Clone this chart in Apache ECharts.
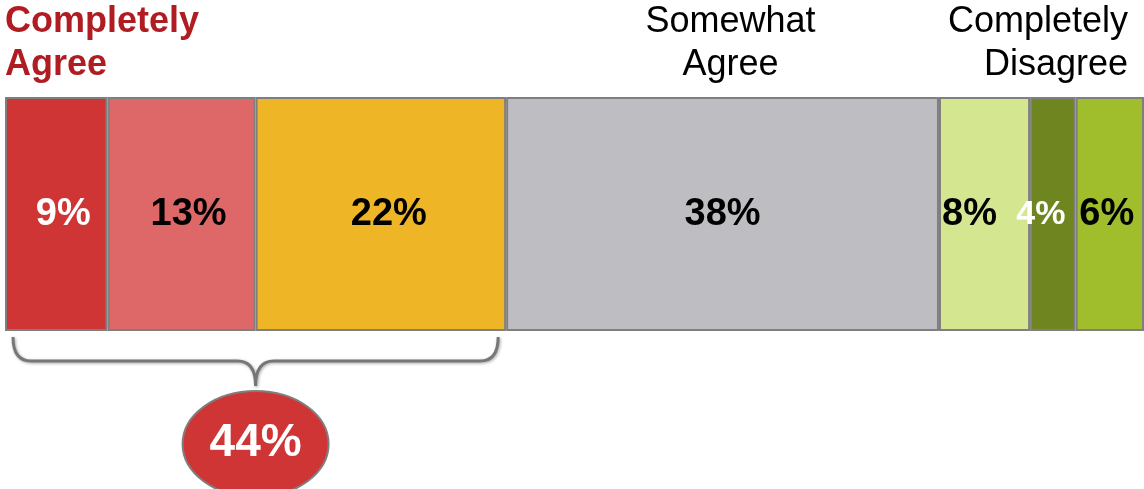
<!DOCTYPE html>
<html>
<head>
<meta charset="utf-8">
<script src="https://cdn.jsdelivr.net/npm/echarts@6/dist/echarts.min.js"></script>
<style>
html,body{margin:0;padding:0;background:#fff;}
#c{width:1144px;height:489px;}
</style>
</head>
<body>
<div id="c"></div>
<script>
// ---- data ----
var categories = ['Response'];
var segmentNames = ['Completely Agree', 'Agree', 'Somewhat Agree A', 'Somewhat Agree', 'Disagree A', 'Disagree B', 'Completely Disagree'];
var segmentValues = [9, 13, 22, 38, 8, 4, 6];
var headerTexts = ['Completely\nAgree', 'Somewhat\nAgree', 'Completely\nDisagree'];
var bracedCount = 3; // first three segments summed in the bubble

// ---- styles ----
var segmentColors = ['#D03536', '#DE6767', '#EEB526', '#BEBDC2', '#D5E690', '#6F8620', '#A0BE2B'];
var labelColors = ['#ffffff', '#000000', '#000000', '#000000', '#000000', '#ffffff', '#000000'];
var labelShift = [7, 7, 8, 0, -15, -12, -3];
var labelSizes = [38, 38, 38, 38, 38, 34, 38];

var FONT = '"Liberation Sans", Arial, Helvetica, sans-serif';
var chart = echarts.init(document.getElementById('c'), null, {renderer: 'canvas'});

var total = 0;
for (var k = 0; k < bracedCount; k++) total += segmentValues[k];

var series = segmentValues.map(function (v, i) {
  return {
    name: segmentNames[i],
    type: 'bar',
    stack: 'total',
    barWidth: '100%',
    data: [v],
    itemStyle: {color: segmentColors[i], borderColor: '#7F7F7F', borderWidth: 2},
    label: {
      show: true,
      position: 'inside',
      offset: [labelShift[i], 1],
      formatter: '{c}%',
      color: labelColors[i],
      fontFamily: FONT,
      fontWeight: 'bold',
      fontSize: labelSizes[i]
    },
    silent: true
  };
});

// brace + bubble drawn as a custom series from the axis scale
series.push({
  type: 'custom',
  silent: true,
  clip: false,
  z: 5,
  data: [[0, total]],
  renderItem: function (params, api) {
    var pL = api.coord([api.value(0), 0]);
    var pR = api.coord([api.value(1), 0]);
    var x0 = pL[0] + 8, x1 = pR[0] - 8, mid = (x0 + x1) / 2;
    var yTop = 337, yLine = 361, yTip = 386, r = 18;
    var brace = 'M' + x0 + ',' + yTop +
      ' Q' + x0 + ',' + yLine + ' ' + (x0 + r) + ',' + yLine +
      ' L' + (mid - r) + ',' + yLine +
      ' Q' + mid + ',' + yLine + ' ' + mid + ',' + yTip +
      ' Q' + mid + ',' + yLine + ' ' + (mid + r) + ',' + yLine +
      ' L' + (x1 - r) + ',' + yLine +
      ' Q' + x1 + ',' + yLine + ' ' + x1 + ',' + yTop;
    var cx = mid, cy = 444, rx = 73, ry = 53;
    var ell = 'M' + (cx - rx) + ',' + cy +
      ' A' + rx + ',' + ry + ' 0 1 0 ' + (cx + rx) + ',' + cy +
      ' A' + rx + ',' + ry + ' 0 1 0 ' + (cx - rx) + ',' + cy + ' Z';
    return {
      type: 'group',
      children: [
        {type: 'path', shape: {pathData: brace}, style: {fill: 'none', stroke: '#777777', lineWidth: 3, shadowBlur: 3, shadowColor: 'rgba(0,0,0,0.35)', shadowOffsetX: 1, shadowOffsetY: 1}},
        {type: 'path', shape: {pathData: ell}, style: {fill: '#D03536', stroke: '#7F7F7F', lineWidth: 2}},
        {type: 'text', x: cx, y: cy - 1, style: {text: api.value(1) + '%', fill: '#fff', font: 'bold 46px ' + FONT, align: 'center', verticalAlign: 'middle'}}
      ]
    };
  }
});

chart.setOption({
  animation: false,
  grid: {left: 5, right: 0, top: 97, height: 234, containLabel: false},
  xAxis: {type: 'value', min: 0, max: 100, show: false},
  yAxis: {type: 'category', data: categories, show: false},
  series: series
});

var sumBefore = 0;
for (var j = 0; j < 3; j++) sumBefore += segmentValues[j];
var pSW = chart.convertToPixel({gridIndex: 0}, [sumBefore + segmentValues[3] / 2, 0]);

chart.setOption({
  graphic: [
    {type: 'text', x: 5, y: 1, style: {text: headerTexts[0], fill: '#B01C22', font: 'bold 36px ' + FONT, lineHeight: 43, align: 'left', verticalAlign: 'top'}},
    {type: 'text', x: pSW[0] + 8, y: 1, style: {text: headerTexts[1], fill: '#000', font: '36px ' + FONT, lineHeight: 43, align: 'center', verticalAlign: 'top'}},
    {type: 'text', x: 1128, y: 1, style: {text: headerTexts[2], fill: '#000', font: '36px ' + FONT, lineHeight: 43, align: 'right', verticalAlign: 'top'}}
  ]
});
</script>
</body>
</html>
